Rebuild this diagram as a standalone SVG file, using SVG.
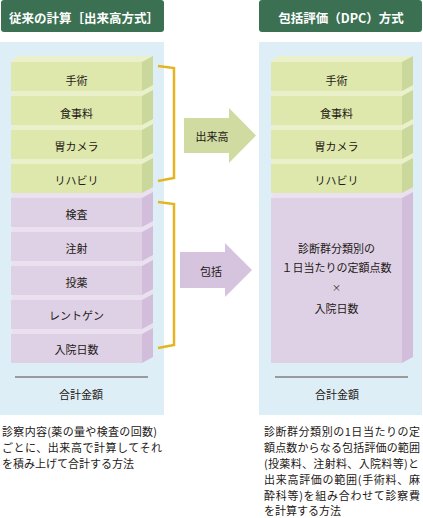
<svg xmlns="http://www.w3.org/2000/svg" width="423" height="518" viewBox="0 0 423 518">
<style>
text{font-family:"Noto Sans CJK JP","Noto Sans",sans-serif;fill:#231815}
.hdr{fill:#3b7152}
.htx{fill:#fff;font-size:12.5px;font-weight:bold;text-anchor:middle;dominant-baseline:central}
.panel{fill:#ddeef7}
.lbl{font-size:11px;text-anchor:middle;dominant-baseline:central}
.gf{fill:#dee8ad}.gt{fill:#eaf0ca}.gs{fill:#cad89b}
.pf{fill:#dfd1e5}.pt{fill:#eae0ef}.ps{fill:#d2bedb}
.br{fill:none;stroke:#e5b420;stroke-width:2.5}
.sum{stroke:#9a9a9a;stroke-width:2}
.desc{font-size:11px}
</style>
<defs>
<path id="topA" d="M11 0 L142 0 L153 -6 L17 -6 Z"/>
<path id="topB" d="M11 0 L142 0 L153 -6 L153 -12 L17 -12 Z"/>
<path id="side" d="M142 0 L153 -6 L153 23 L142 29 Z"/>
<rect id="front" x="11" y="0" width="131" height="29"/>
</defs>

<g id="header-left"><rect class="hdr" x="1" y="0" width="163" height="32" rx="3"/><text class="htx" x="84" y="17">従来の計算［出来高方式］</text></g>
<g id="header-right"><rect class="hdr" x="259" y="0" width="163" height="32" rx="3"/><text class="htx" x="341" y="17">包括評価（DPC）方式</text></g>

<rect class="panel" x="0" y="42" width="164" height="373"/>
<rect class="panel" x="259" y="42" width="163" height="373"/>

<!-- left stack, drawn bottom to top -->
<g id="l-nyuin" transform="translate(0,334)"><use href="#topB" class="pt"/><use href="#front" class="pf"/><use href="#side" class="ps"/><text class="lbl" x="76.5" y="15">入院日数</text></g>
<g id="l-xray" transform="translate(0,300)"><use href="#topB" class="pt"/><use href="#front" class="pf"/><use href="#side" class="ps"/><text class="lbl" x="76.5" y="15">レントゲン</text></g>
<g id="l-toyaku" transform="translate(0,266)"><use href="#topB" class="pt"/><use href="#front" class="pf"/><use href="#side" class="ps"/><text class="lbl" x="76.5" y="15.5">投薬</text></g>
<g id="l-chusha" transform="translate(0,232)"><use href="#topB" class="pt"/><use href="#front" class="pf"/><use href="#side" class="ps"/><text class="lbl" x="76.5" y="16">注射</text></g>
<g id="l-kensa" transform="translate(0,198)"><use href="#topB" class="pt"/><use href="#front" class="pf"/><use href="#side" class="ps"/><text class="lbl" x="76.5" y="16">検査</text></g>
<g id="l-reha" transform="translate(0,164)"><use href="#topB" class="gt"/><use href="#front" class="gf"/><use href="#side" class="gs"/><text class="lbl" x="76.5" y="16">リハビリ</text></g>
<g id="l-ikamera" transform="translate(0,130)"><use href="#topB" class="gt"/><use href="#front" class="gf"/><use href="#side" class="gs"/><text class="lbl" x="76.5" y="16">胃カメラ</text></g>
<g id="l-shokuji" transform="translate(0,96)"><use href="#topB" class="gt"/><use href="#front" class="gf"/><use href="#side" class="gs"/><text class="lbl" x="76.5" y="17">食事料</text></g>
<g id="l-shujutsu" transform="translate(0,62)"><use href="#topA" class="gt"/><use href="#front" class="gf"/><use href="#side" class="gs"/><text class="lbl" x="76.5" y="17.5">手術</text></g>

<g id="l-total"><line class="sum" x1="15" y1="377" x2="148" y2="377"/><text class="lbl" x="81" y="394">合計金額</text></g>

<!-- right stack -->
<g id="r-dpc" transform="translate(260,198)"><use href="#topB" class="pt"/><rect class="pf" x="11" y="0" width="131" height="165"/><path class="ps" d="M142 0 L153 -6 L153 159 L142 165 Z"/>
<text class="lbl" x="76.5" y="50">診断群分類別の</text>
<text class="lbl" x="76.5" y="69">１日当たりの定額点数</text>
<text class="lbl" x="76.5" y="89" style="font-size:9px">×</text>
<text class="lbl" x="76.5" y="110">入院日数</text></g>
<g id="r-reha" transform="translate(260,164)"><use href="#topB" class="gt"/><use href="#front" class="gf"/><use href="#side" class="gs"/><text class="lbl" x="76.5" y="16">リハビリ</text></g>
<g id="r-ikamera" transform="translate(260,130)"><use href="#topB" class="gt"/><use href="#front" class="gf"/><use href="#side" class="gs"/><text class="lbl" x="76.5" y="16">胃カメラ</text></g>
<g id="r-shokuji" transform="translate(260,96)"><use href="#topB" class="gt"/><use href="#front" class="gf"/><use href="#side" class="gs"/><text class="lbl" x="76.5" y="17">食事料</text></g>
<g id="r-shujutsu" transform="translate(260,62)"><use href="#topA" class="gt"/><use href="#front" class="gf"/><use href="#side" class="gs"/><text class="lbl" x="76.5" y="17.5">手術</text></g>

<g id="r-total"><line class="sum" x1="275" y1="377" x2="408" y2="377"/><text class="lbl" x="337" y="394">合計金額</text></g>

<!-- connectors -->
<g id="connectors">
<path class="br" d="M158 66 L174 68 L174 178 L158 181"/>
<path class="br" d="M158 202 L174 204 L174 345 L158 348"/>
<g id="arrow-dekidaka"><path fill="#cfdba1" d="M184 118 L229 118 L229 108 L256 135.5 L229 163 L229 153 L184 153 Z"/><text class="lbl" x="212" y="136">出来高</text></g>
<g id="arrow-hokatsu"><path fill="#d6c4df" d="M180 252 L225 252 L225 243 L252 270 L225 297 L225 288 L180 288 Z"/><text class="lbl" x="211" y="271">包括</text></g>
</g>

<g id="desc-left" class="desc">
<text x="2" y="436" textLength="155" lengthAdjust="spacing">診察内容(薬の量や検査の回数)</text>
<text x="2" y="452" textLength="160" lengthAdjust="spacing">ごとに、出来高で計算してそれ</text>
<text x="2" y="468">を積み上げて合計する方法</text>
</g>
<g id="desc-right" class="desc">
<text x="264" y="436" textLength="156" lengthAdjust="spacing">診断群分類別の1日当たりの定</text>
<text x="264" y="452" textLength="156" lengthAdjust="spacing">額点数からなる包括評価の範囲</text>
<text x="264" y="468" textLength="155" lengthAdjust="spacing">(投薬料、注射料、入院料等)と</text>
<text x="264" y="484" textLength="156" lengthAdjust="spacing">出来高評価の範囲(手術料、麻</text>
<text x="264" y="500" textLength="156" lengthAdjust="spacing">酔科等)を組み合わせて診察費</text>
<text x="264" y="515">を計算する方法</text>
</g>
</svg>
